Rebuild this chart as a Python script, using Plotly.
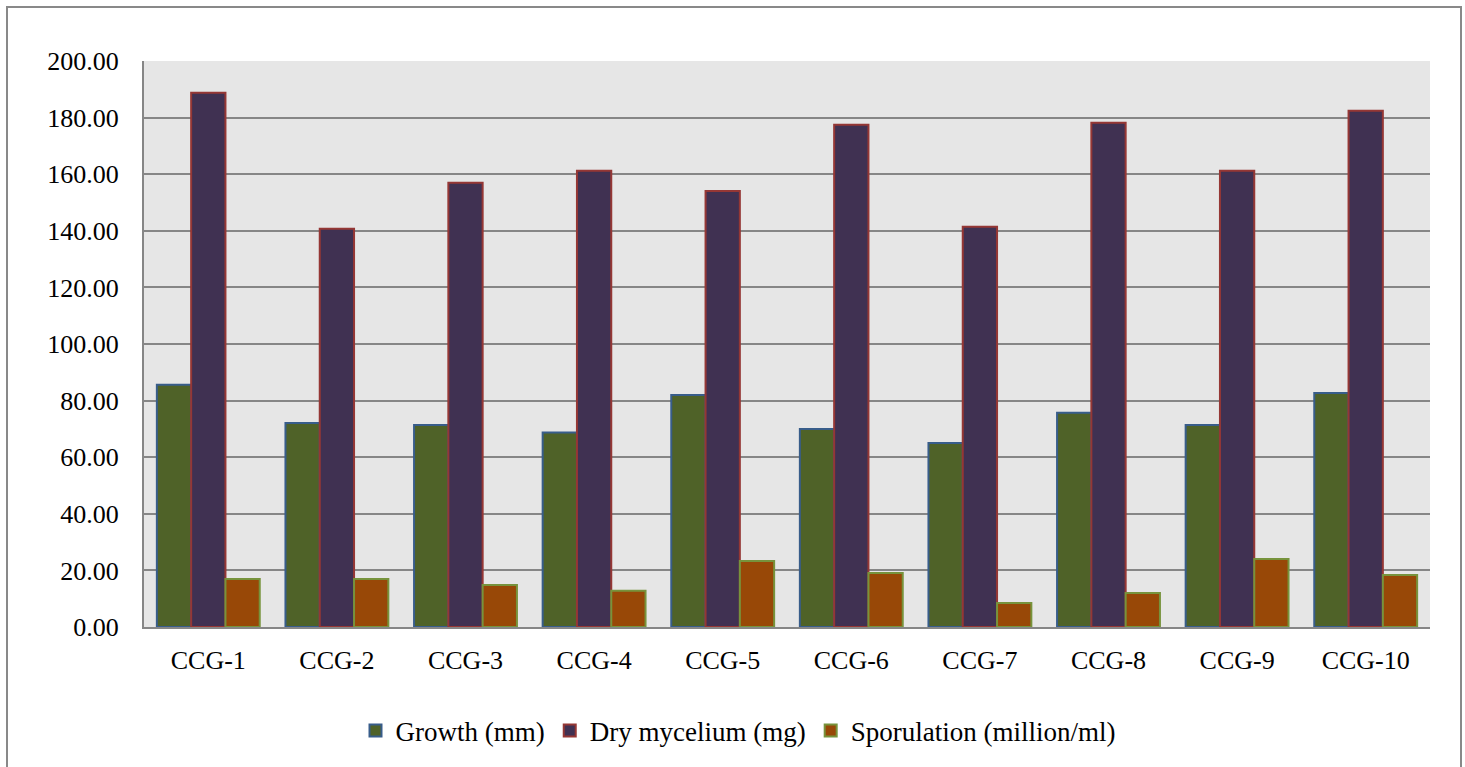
import plotly.graph_objects as go

categories = ["CCG-1", "CCG-2", "CCG-3", "CCG-4", "CCG-5", "CCG-6", "CCG-7", "CCG-8", "CCG-9", "CCG-10"]
growth_mm = [85.6, 72.1, 71.4, 68.7, 82.0, 70.0, 65.0, 75.7, 71.4, 82.7]
dry_mycelium_mg = [188.8, 140.7, 157.0, 161.2, 154.1, 177.5, 141.4, 178.2, 161.2, 182.4]
sporulation = [17.0, 17.0, 14.8, 12.8, 23.3, 19.1, 8.5, 12.0, 24.0, 18.4]

W, H = 1465, 767
L, R, T, B = 144, 35, 61, 140
pw = W - L - R
ph = H - T - B
SERIF = "Liberation Serif"

def px2x(px):
    return (px - L) / pw

def py2y(py):
    return (H - B - py) / ph

fig = go.Figure()
fig.add_trace(go.Bar(x=categories, y=growth_mm, name="Growth (mm)",
                     marker=dict(color="#4f6228", line=dict(color="#385d8a", width=2))))
fig.add_trace(go.Bar(x=categories, y=dry_mycelium_mg, name="Dry mycelium (mg)",
                     marker=dict(color="#403152", line=dict(color="#953735", width=2))))
fig.add_trace(go.Bar(x=categories, y=sporulation, name="Sporulation (million/ml)",
                     marker=dict(color="#984807", line=dict(color="#77933c", width=2))))

fig.update_layout(
    width=W, height=H,
    margin=dict(l=L, r=R, t=T, b=B),
    paper_bgcolor="white",
    plot_bgcolor="#e6e6e6",
    barmode="group",
    bargap=0.2,
    bargroupgap=0,
    font=dict(family=SERIF, color="black", size=26),
    showlegend=True,
    legend=dict(orientation="h", x=px2x(738), xanchor="center", y=py2y(731), yanchor="middle",
                font=dict(family=SERIF, size=27, color="black"), bgcolor="rgba(0,0,0,0)",
                traceorder="normal", itemwidth=30),
    xaxis=dict(showgrid=False, showline=True, linecolor="#868686", linewidth=2,
               ticks="outside", ticklen=9, tickcolor="rgba(0,0,0,0)",
               tickfont=dict(family=SERIF, size=26), fixedrange=True),
    yaxis=dict(range=[0, 200], dtick=20, tickformat=".2f", showgrid=True,
               gridcolor="#868686", gridwidth=2, showline=True, linecolor="#868686",
               linewidth=2, ticks="outside", ticklen=18, tickcolor="rgba(0,0,0,0)",
               tickfont=dict(family=SERIF, size=26), zeroline=False, fixedrange=True),
    shapes=[dict(type="rect", xref="paper", yref="paper",
                 x0=px2x(7), x1=px2x(1461), y0=py2y(790), y1=py2y(7),
                 line=dict(color="#898989", width=2), fillcolor="rgba(0,0,0,0)", layer="below")],
)

fig.write_html("out.html")
